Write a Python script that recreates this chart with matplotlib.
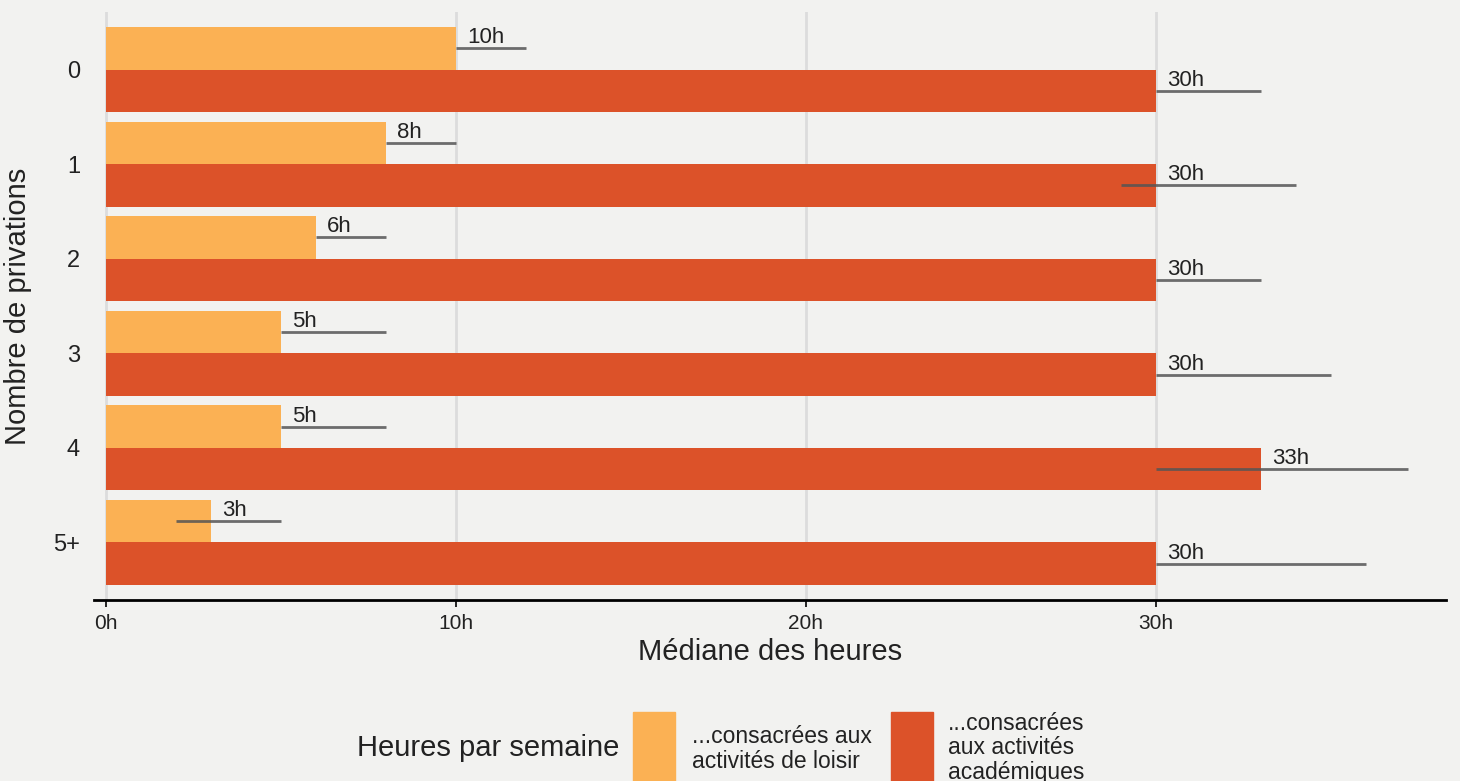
import numpy as np
import matplotlib.pyplot as plt
from matplotlib.patches import Rectangle

plt.rcParams['font.family'] = ['Liberation Sans', 'DejaVu Sans']

# données
categories = ['0', '1', '2', '3', '4', '5+']
loisir = [10, 8, 6, 5, 5, 3]
loisir_low = [10, 8, 6, 5, 5, 2]
loisir_high = [12, 10, 8, 8, 8, 5]
academique = [30, 30, 30, 30, 33, 30]
academique_low = [30, 29, 30, 30, 30, 30]
academique_high = [33, 34, 33, 35, 37.2, 36]
x_ticks = [0, 10, 20, 30]

BG = '#f2f2f0'
C_LOISIR = '#fbb154'
C_ACAD = '#dc5229'
LINE = '#555555'
TXT = '#222222'

fig = plt.figure(figsize=(14.6, 7.81), dpi=100, facecolor=BG)
ax = fig.add_axes([94 / 1460, 1 - 600 / 781, (1446 - 94) / 1460, (600 - 12) / 781])
ax.set_facecolor(BG)

y = np.arange(len(categories))
h = 0.45

ax.barh(y - h / 2, loisir, height=h, color=C_LOISIR, zorder=2)
ax.barh(y + h / 2, academique, height=h, color=C_ACAD, zorder=2)

# intervalles
ax.hlines(y - h / 2, loisir_low, loisir_high, color=LINE, lw=2, alpha=0.85, zorder=3)
ax.hlines(y + h / 2, academique_low, academique_high, color=LINE, lw=2, alpha=0.85, zorder=3)

for yi, v in zip(y - h / 2, loisir):
    ax.annotate(f'{v}h', (v, yi), xytext=(8, 0), textcoords='offset points',
                ha='left', va='bottom', fontsize=16, color=TXT, zorder=4)
for yi, v in zip(y + h / 2, academique):
    ax.annotate(f'{v}h', (v, yi), xytext=(8, 0), textcoords='offset points',
                ha='left', va='bottom', fontsize=16, color=TXT, zorder=4)

ax.set_xlim(-0.34, 38.3)
ax.set_ylim(len(categories) - 0.39, -0.61)

ax.set_xticks(x_ticks)
ax.set_xticklabels([f'{t}h' for t in x_ticks], fontsize=15, color=TXT)
ax.set_yticks(y)
ax.set_yticklabels(categories, fontsize=17, color=TXT)
ax.tick_params(axis='y', length=0, pad=10)
ax.tick_params(axis='x', length=5, width=1.2, color='black', pad=5)

ax.grid(axis='x', color='#dcdcdc', lw=2, zorder=0)
ax.set_axisbelow(True)
for s in ['top', 'right', 'left']:
    ax.spines[s].set_visible(False)
ax.spines['bottom'].set_linewidth(2)
ax.spines['bottom'].set_color('black')

ax.set_xlabel('Médiane des heures', fontsize=21, color=TXT, labelpad=4)
ax.set_ylabel('Nombre de privations', fontsize=21, color=TXT)
ax.yaxis.set_label_coords((32 - 94) / 1352, 0.5)

# légende
fig.text(357 / 1460, 1 - 748 / 781, 'Heures par semaine', fontsize=21,
         color=TXT, ha='left', va='center')
fig.add_artist(Rectangle((633 / 1460, 0), 42 / 1460, 69 / 781,
                         transform=fig.transFigure, color=C_LOISIR))
fig.add_artist(Rectangle((891 / 1460, 0), 42 / 1460, 69 / 781,
                         transform=fig.transFigure, color=C_ACAD))
fig.text(692 / 1460, 1 - 749 / 781, '...consacrées aux\nactivités de loisir',
         fontsize=16.5, color=TXT, ha='left', va='center', linespacing=1.1)
fig.text(948 / 1460, 1 - 748 / 781, '...consacrées\naux activités\nacadémiques',
         fontsize=16.5, color=TXT, ha='left', va='center', linespacing=1.1)

fig.savefig('out.png', dpi=100, facecolor=BG)
